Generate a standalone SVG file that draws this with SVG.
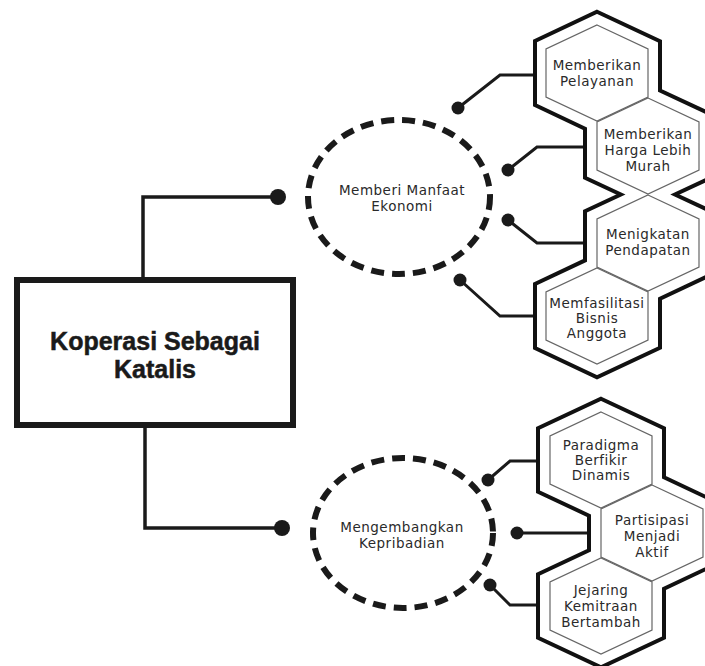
<svg xmlns="http://www.w3.org/2000/svg" width="705" height="666" viewBox="0 0 705 666">
  <style>
    .wire { fill: none; stroke: #1a1a1a; stroke-width: 3; stroke-linejoin: miter; }
    .trunk { fill: none; stroke: #1a1a1a; stroke-width: 3.5; }
    .dot { fill: #1a1a1a; }
    .shell { fill: none; stroke: #111; stroke-width: 4; stroke-linejoin: miter; }
    .cell { fill: #fff; stroke: #666; stroke-width: 1.2; }
    .ring { fill: none; stroke: #1a1a1a; stroke-width: 6; stroke-dasharray: 13 8; }
    .label { font-family: "DejaVu Sans", "Noto Sans", sans-serif; font-size: 13.5px; fill: #2a2a2a; text-anchor: middle; letter-spacing: 0.5px; }
    .title { font-family: "Liberation Sans", Arial, sans-serif; font-weight: bold; font-size: 25px; fill: #1a1a1a; stroke: #1a1a1a; stroke-width: 0.5; text-anchor: middle; }
  </style>
  <rect width="705" height="666" fill="#fff"/>

  <!-- connectors -->
  <g id="connectors">
    <polyline class="trunk" points="143,280 143,197 278,197"/>
    <circle class="dot" cx="278" cy="197" r="8"/>
    <polyline class="trunk" points="145,425 145,528 282,528"/>
    <circle class="dot" cx="282" cy="528" r="8"/>

    <polyline class="wire" points="458,108 500,75 536,75"/>
    <circle class="dot" cx="458" cy="108" r="6.5"/>
    <polyline class="wire" points="508,170 537,147 586,147"/>
    <circle class="dot" cx="508" cy="170" r="6.5"/>
    <polyline class="wire" points="508,220 537,243 586,243"/>
    <circle class="dot" cx="508" cy="220" r="6.5"/>
    <polyline class="wire" points="460,280 500,316 536,316"/>
    <circle class="dot" cx="460" cy="280" r="6.5"/>

    <polyline class="wire" points="488,480 510,461 539,461"/>
    <circle class="dot" cx="488" cy="480" r="6.5"/>
    <polyline class="wire" points="517,533 590,533"/>
    <circle class="dot" cx="517" cy="533" r="6.5"/>
    <polyline class="wire" points="490,585 510,605 539,605"/>
    <circle class="dot" cx="490" cy="585" r="6.5"/>
  </g>

  <!-- root node -->
  <g id="root">
    <rect x="17" y="280" width="276" height="145" fill="#fff" stroke="#1a1a1a" stroke-width="6"/>
    <text class="title" x="155" y="350">Koperasi Sebagai</text>
    <text class="title" x="155" y="378">Katalis</text>
  </g>

  <!-- branch: economic benefit -->
  <g id="benefit">
    <ellipse class="ring" cx="399" cy="197" rx="91" ry="77"/>
    <text class="label" x="402" y="195">Memberi Manfaat</text>
    <text class="label" x="402" y="211">Ekonomi</text>
  </g>

  <!-- branch: personal development -->
  <g id="development">
    <ellipse class="ring" cx="403" cy="533" rx="90" ry="75"/>
    <text class="label" x="402" y="532">Mengembangkan</text>
    <text class="label" x="402" y="548">Kepribadian</text>
  </g>

  <!-- honeycomb 1 -->
  <g id="comb-benefit">
    <polygon class="shell" points="597,11.7 660,41.3 660,90.5 711,114.3 711,177.7 675,194.5 710,210.9 710,275.1 660,298.7 660,347.7 597,377.3 535,348.1 535,283.9 585,260.4 585,211.3 620.8,194.5 585,177.7 585,128.7 535,105.1 535,40.9"/>
    <g id="hex-pelayanan">
      <polygon class="cell" points="597,25 648,49 648,97 597,121 546,97 546,49"/>
      <text class="label" x="597" y="70">Memberikan</text>
      <text class="label" x="597" y="86">Pelayanan</text>
    </g>
    <g id="hex-harga">
      <polygon class="cell" points="648,98 699,122 699,170 648,194 597,170 597,122"/>
      <text class="label" x="648" y="139">Memberikan</text>
      <text class="label" x="648" y="155">Harga Lebih</text>
      <text class="label" x="648" y="171">Murah</text>
    </g>
    <g id="hex-pendapatan">
      <polygon class="cell" points="648,195 699,219 699,267 648,291 597,267 597,219"/>
      <text class="label" x="648" y="239">Menigkatan</text>
      <text class="label" x="648" y="255">Pendapatan</text>
    </g>
    <g id="hex-bisnis">
      <polygon class="cell" points="597,268 648,292 648,340 597,364 546,340 546,292"/>
      <text class="label" x="597" y="308">Memfasilitasi</text>
      <text class="label" x="597" y="323">Bisnis</text>
      <text class="label" x="597" y="338">Anggota</text>
    </g>
  </g>

  <!-- honeycomb 2 -->
  <g id="comb-development">
    <polygon class="shell" points="601,398.7 664,428.3 664,477.3 715,501.3 715,564.7 664,588.7 664,637.7 601,667.3 538,637.7 538,574.3 589,550.3 589,515.7 538,491.7 538,428.3"/>
    <g id="hex-paradigma">
      <polygon class="cell" points="601,412 652,436 652,484 601,508 550,484 550,436"/>
      <text class="label" x="601" y="450">Paradigma</text>
      <text class="label" x="601" y="465">Berfikir</text>
      <text class="label" x="601" y="480">Dinamis</text>
    </g>
    <g id="hex-partisipasi">
      <polygon class="cell" points="652,485 703,509 703,557 652,581 601,557 601,509"/>
      <text class="label" x="652" y="525">Partisipasi</text>
      <text class="label" x="652" y="541">Menjadi</text>
      <text class="label" x="652" y="557">Aktif</text>
    </g>
    <g id="hex-kemitraan">
      <polygon class="cell" points="601,558 652,582 652,630 601,654 550,630 550,582"/>
      <text class="label" x="601" y="595">Jejaring</text>
      <text class="label" x="601" y="611">Kemitraan</text>
      <text class="label" x="601" y="627">Bertambah</text>
    </g>
  </g>
</svg>
